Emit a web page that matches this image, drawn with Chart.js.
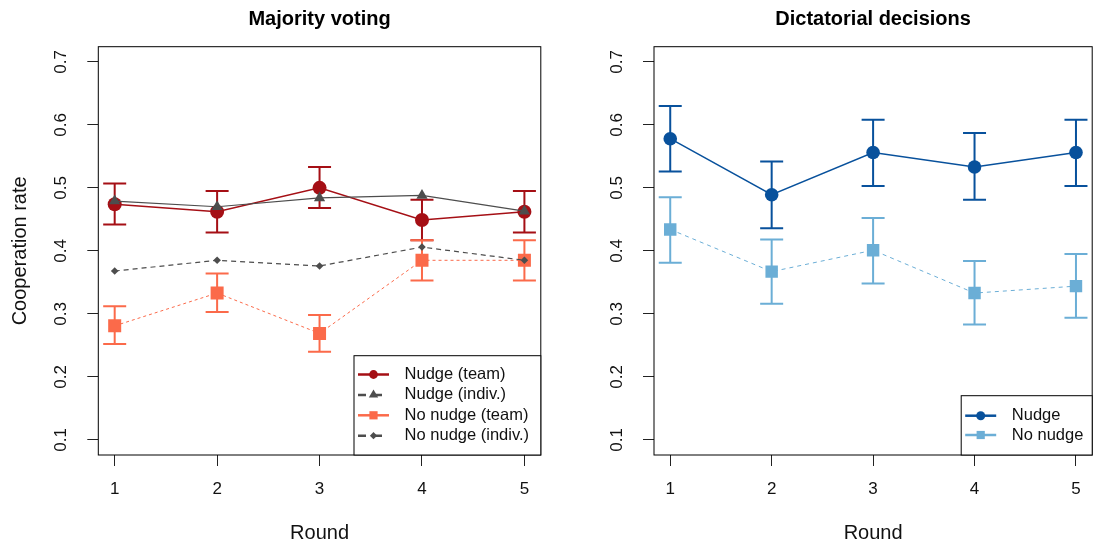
<!DOCTYPE html>
<html>
<head>
<meta charset="utf-8">
<script src="https://cdn.jsdelivr.net/npm/chart.js@4.4.1/dist/chart.umd.min.js"></script>
<style>
  html, body { margin: 0; padding: 0; background: #fff; }
  #wrap { position: relative; width: 1101px; height: 545px; }
  canvas { position: absolute; top: 0; }
</style>
</head>
<body>
<div id="wrap">
  <canvas id="mv" width="550" height="545" style="left:0px"></canvas>
  <canvas id="dc" width="550" height="545" style="left:551px"></canvas>
</div>
<script>
// --- data ---
const rounds = [1, 2, 3, 4, 5];
const yTicks = [0.1, 0.2, 0.3, 0.4, 0.5, 0.6, 0.7];

// Majority voting
const mvNudgeTeam     = [0.474, 0.462, 0.500, 0.449, 0.462];
const mvNudgeTeamLo   = [0.442, 0.429, 0.468, 0.417, 0.429];
const mvNudgeTeamHi   = [0.507, 0.495, 0.533, 0.481, 0.495];
const mvNudgeIndiv    = [0.479, 0.470, 0.484, 0.488, 0.463];
const mvNoNudgeTeam   = [0.281, 0.333, 0.269, 0.385, 0.385];
const mvNoNudgeTeamLo = [0.252, 0.303, 0.240, 0.353, 0.353];
const mvNoNudgeTeamHi = [0.312, 0.364, 0.298, 0.417, 0.417];
const mvNoNudgeIndiv  = [0.368, 0.385, 0.376, 0.406, 0.385];

// Dictatorial decisions
const dcNudge     = [0.578, 0.489, 0.556, 0.533, 0.556];
const dcNudgeLo   = [0.526, 0.436, 0.503, 0.481, 0.503];
const dcNudgeHi   = [0.630, 0.542, 0.608, 0.587, 0.608];
const dcNoNudge   = [0.434, 0.367, 0.401, 0.333, 0.344];
const dcNoNudgeLo = [0.381, 0.316, 0.348, 0.283, 0.294];
const dcNoNudgeHi = [0.485, 0.418, 0.452, 0.384, 0.395];

const FONT = "'Liberation Sans', Arial, Helvetica, sans-serif";
Chart.defaults.font.family = FONT;
Chart.defaults.color = '#111';

const pts = vals => rounds.map((r, i) => ({ x: r, y: vals[i] }));

// error bars drawn under the lines and points
const errorBars = {
  id: 'errorBars',
  beforeDatasetsDraw(chart) {
    const { ctx, scales: { x, y } } = chart;
    chart.data.datasets.forEach(ds => {
      if (!ds.errLo) return;
      ctx.save();
      ctx.strokeStyle = ds.borderColor;
      ctx.lineWidth = 2;
      ctx.setLineDash([]);
      ds.data.forEach((p, i) => {
        const px = x.getPixelForValue(p.x);
        const lo = y.getPixelForValue(ds.errLo[i]);
        const hi = y.getPixelForValue(ds.errHi[i]);
        ctx.beginPath();
        ctx.moveTo(px, lo); ctx.lineTo(px, hi);
        ctx.moveTo(px - 11.5, lo); ctx.lineTo(px + 11.5, lo);
        ctx.moveTo(px - 11.5, hi); ctx.lineTo(px + 11.5, hi);
        ctx.stroke();
      });
      ctx.restore();
    });
  }
};

// box round the plot + R-style legend in the bottom right corner
const frame = {
  id: 'frame',
  afterDraw(chart, args, opts) {
    const { ctx, chartArea: a } = chart;
    ctx.save();
    ctx.strokeStyle = '#000';
    ctx.lineWidth = 1;
    ctx.strokeRect(a.left, a.top, a.right - a.left, a.bottom - a.top);

    const lg = opts.legend;
    const left = a.right - lg.width, top = a.bottom - lg.height;
    ctx.fillStyle = '#fff';
    ctx.fillRect(left, top, lg.width, lg.height);
    ctx.strokeRect(left, top, lg.width, lg.height);
    lg.items.forEach((it, i) => {
      const ds = chart.data.datasets[it.ds];
      const yy = top + lg.firstRow + i * lg.rowStep;
      ctx.strokeStyle = ds.borderColor;
      ctx.lineWidth = 2.5;
      ctx.setLineDash(it.dash || []);
      ctx.beginPath();
      ctx.moveTo(left + 4, yy); ctx.lineTo(left + 35, yy);
      ctx.stroke();
      ctx.setLineDash([]);
      ctx.fillStyle = ds.borderColor;
      Chart.helpers.drawPoint(ctx, { pointStyle: ds.pointStyle, radius: it.r, rotation: 0, borderWidth: 0 }, left + 19.5, yy);
      ctx.fillStyle = '#111';
      ctx.font = '16.5px ' + FONT;
      ctx.textAlign = 'left';
      ctx.textBaseline = 'middle';
      ctx.fillText(ds.label, left + 50.6, yy);
    });
    ctx.restore();
  }
};

function makeChart(id, title, datasets, yTitle, yWidth, padRight, legend) {
  const gridOpts = { drawOnChartArea: false, drawTicks: true, tickLength: 11, color: '#222', lineWidth: 1 };
  return new Chart(document.getElementById(id), {
    type: 'line',
    data: { datasets },
    options: {
      responsive: false,
      animation: false,
      events: [],
      layout: { padding: { left: 0, right: padRight, top: 0, bottom: 0 } },
      elements: { line: { tension: 0, fill: false } },
      scales: {
        x: {
          type: 'linear', min: 0.84, max: 5.16,
          afterBuildTicks: s => { s.ticks = rounds.map(v => ({ value: v })); },
          afterFit: s => { s.height = 90; },
          grid: gridOpts,
          border: { display: false },
          ticks: { padding: 12.8, autoSkip: false, maxRotation: 0, font: { size: 17 }, color: '#111', callback: v => String(v) },
          title: { display: true, text: 'Round', font: { size: 20 }, color: '#111', padding: { top: 0, bottom: 0 } }
        },
        y: {
          type: 'linear', min: 0.076, max: 0.724,
          afterBuildTicks: s => { s.ticks = yTicks.map(v => ({ value: v })); },
          afterFit: s => { s.width = yWidth; },
          grid: gridOpts,
          border: { display: false },
          ticks: { minRotation: 90, maxRotation: 90, crossAlign: 'center', padding: 14.2, autoSkip: false, font: { size: 17 }, color: '#111', callback: v => v.toFixed(1) },
          title: { display: !!yTitle, text: yTitle || '', font: { size: 20 }, color: '#111', padding: { top: 8, bottom: 0 } }
        }
      },
      plugins: {
        legend: { display: false },
        tooltip: { enabled: false },
        title: { display: true, text: title, fullSize: false, color: '#000', font: { size: 20, weight: 'bold' }, padding: { top: 7, bottom: 15.7 } },
        frame: { legend }
      }
    },
    plugins: [errorBars, frame]
  });
}

const red = '#A50F15', orange = '#FB6A4A', grey = '#4D4D4D';
const blue = '#08519C', lightBlue = '#6BAED6';

makeChart('mv', 'Majority voting', [
  { label: 'Nudge (team)', data: pts(mvNudgeTeam), errLo: mvNudgeTeamLo, errHi: mvNudgeTeamHi,
    borderColor: red, backgroundColor: red, borderWidth: 1.5, pointStyle: 'circle', pointRadius: 7,
    pointBackgroundColor: red, pointBorderWidth: 0, order: 4 },
  { label: 'Nudge (indiv.)', data: pts(mvNudgeIndiv),
    borderColor: grey, backgroundColor: grey, borderWidth: 1.2, pointStyle: 'triangle', pointRadius: 6.5,
    pointBackgroundColor: grey, pointBorderWidth: 0, order: 2 },
  { label: 'No nudge (team)', data: pts(mvNoNudgeTeam), errLo: mvNoNudgeTeamLo, errHi: mvNoNudgeTeamHi,
    borderColor: orange, backgroundColor: orange, borderWidth: 1, borderDash: [3, 3], pointStyle: 'rect', pointRadius: 9.2,
    pointBackgroundColor: orange, pointBorderWidth: 0, order: 3 },
  { label: 'No nudge (indiv.)', data: pts(mvNoNudgeIndiv),
    borderColor: grey, backgroundColor: grey, borderWidth: 1.2, borderDash: [5, 4], pointStyle: 'rectRot', pointRadius: 3.8,
    pointBackgroundColor: grey, pointBorderWidth: 0, order: 1 }
], 'Cooperation rate', 98.3, 6.5, {
  width: 186.8, height: 99.3, firstRow: 18.8, rowStep: 20.4,
  items: [ { ds: 0, r: 4.4 }, { ds: 1, r: 5.4, dash: [8, 8] }, { ds: 2, r: 5.8 }, { ds: 3, r: 3.6, dash: [8, 8] } ]
});

makeChart('dc', 'Dictatorial decisions', [
  { label: 'Nudge', data: pts(dcNudge), errLo: dcNudgeLo, errHi: dcNudgeHi,
    borderColor: blue, backgroundColor: blue, borderWidth: 1.5, pointStyle: 'circle', pointRadius: 6.8,
    pointBackgroundColor: blue, pointBorderWidth: 0 },
  { label: 'No nudge', data: pts(dcNoNudge), errLo: dcNoNudgeLo, errHi: dcNoNudgeHi,
    borderColor: lightBlue, backgroundColor: lightBlue, borderWidth: 1, borderDash: [4, 4], pointStyle: 'rect', pointRadius: 8.8,
    pointBackgroundColor: lightBlue, pointBorderWidth: 0 }
], null, 103, 2.3, {
  width: 131, height: 59.3, firstRow: 20, rowStep: 19.3,
  items: [ { ds: 0, r: 4.5 }, { ds: 1, r: 5.8 } ]
});
</script>
</body>
</html>
